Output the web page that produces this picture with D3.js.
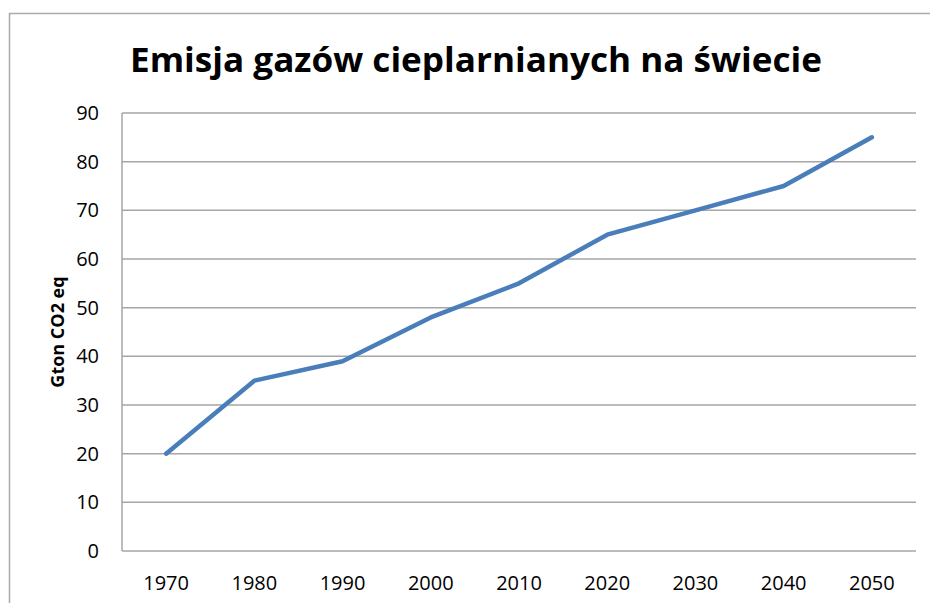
<!DOCTYPE html>
<html>
<head>
<meta charset="utf-8">
<script src="https://cdn.jsdelivr.net/npm/d3@7"></script>
<style>
  html, body { margin: 0; padding: 0; background: #fff; }
  svg { display: block; }
</style>
</head>
<body>
<div id="chart"></div>
<script>
var years = ['1970', '1980', '1990', '2000', '2010', '2020', '2030', '2040', '2050'];
var emissions = [20, 35, 39, 48, 55, 65, 70, 75, 85];
var yTicks = [0, 10, 20, 30, 40, 50, 60, 70, 80, 90];
var titleText = 'Emisja gazów cieplarnianych na świecie';
var yLabel = 'Gton CO2 eq';

var W = 930, H = 603;
var FONT = '"Open Sans", "Noto Sans", sans-serif';
var plot = { left: 122, right: 916, top: 113, bottom: 551 };

var svg = d3.select('#chart').append('svg')
  .attr('width', W).attr('height', H);

/* outer chart frame */
svg.append('rect')
  .attr('x', 9.5).attr('y', 13.5)
  .attr('width', W + 10).attr('height', H + 10)
  .attr('fill', '#fff').attr('stroke', '#aaa').attr('stroke-width', 1.5);

var x = d3.scaleBand().domain(years).range([plot.left, plot.right]);
var y = d3.scaleLinear().domain([0, 90]).range([plot.bottom, plot.top]);

/* gridlines */
svg.append('g').selectAll('line').data(yTicks).enter().append('line')
  .attr('x1', plot.left).attr('x2', plot.right)
  .attr('y1', function (d) { return y(d); })
  .attr('y2', function (d) { return y(d); })
  .attr('stroke', '#a6a6a6').attr('stroke-width', 1.5);

/* y axis line */
svg.append('line')
  .attr('x1', plot.left).attr('x2', plot.left)
  .attr('y1', plot.top).attr('y2', plot.bottom)
  .attr('stroke', '#a6a6a6').attr('stroke-width', 1.5);

/* y tick labels */
svg.append('g').selectAll('text').data(yTicks).enter().append('text')
  .attr('x', 99).attr('y', function (d) { return y(d); })
  .attr('dy', '0.35em')
  .attr('text-anchor', 'end')
  .attr('font-family', FONT).attr('font-size', 20).attr('fill', '#000')
  .text(function (d) { return d; });

/* x tick labels */
svg.append('g').selectAll('text').data(years).enter().append('text')
  .attr('x', function (d) { return x(d) + x.bandwidth() / 2; })
  .attr('y', 590)
  .attr('text-anchor', 'middle')
  .attr('font-family', FONT).attr('font-size', 20).attr('fill', '#000')
  .text(function (d) { return d; });

/* line */
var line = d3.line()
  .x(function (d, i) { return x(years[i]) + x.bandwidth() / 2; })
  .y(function (d) { return y(d); });

svg.append('path')
  .datum(emissions)
  .attr('d', line)
  .attr('fill', 'none')
  .attr('stroke', '#4a7ebb')
  .attr('stroke-width', 4.5)
  .attr('stroke-linejoin', 'round')
  .attr('stroke-linecap', 'round');

/* title */
var title = svg.append('text')
  .attr('x', 476).attr('y', 72)
  .attr('text-anchor', 'middle')
  .attr('font-family', FONT).attr('font-weight', 'bold')
  .attr('font-size', 34).attr('fill', '#000')
  .text(titleText);
var tw = title.node().getComputedTextLength();
if (tw > 0) title.attr('textLength', 692).attr('lengthAdjust', 'spacingAndGlyphs');

/* y axis title */
svg.append('text')
  .attr('transform', 'translate(64,332) rotate(-90)')
  .attr('text-anchor', 'middle')
  .attr('font-family', FONT).attr('font-weight', 'bold')
  .attr('font-size', 18).attr('fill', '#000')
  .text(yLabel);
</script>
</body>
</html>
